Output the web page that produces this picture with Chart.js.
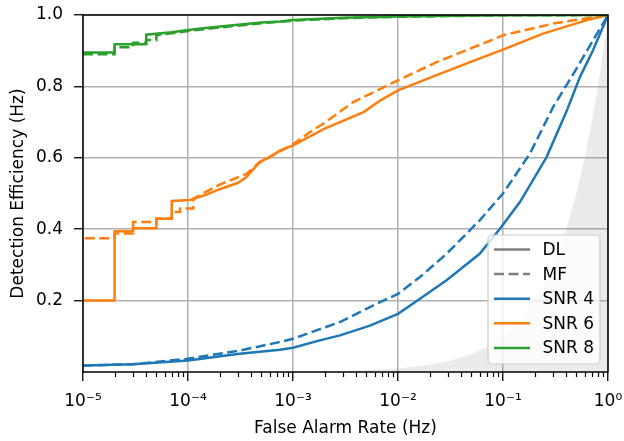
<!DOCTYPE html>
<html>
<head>
<meta charset="utf-8">
<script src="https://cdn.jsdelivr.net/npm/chart.js@4.4.1/dist/chart.umd.min.js"></script>
<style>
  html, body { margin: 0; padding: 0; background: #fff; }
  canvas { display: block; }
</style>
</head>
<body>
<canvas id="roc" width="624" height="441"></canvas>
<script>
// tick values / labels
const farTicks = [1e-5, 1e-4, 1e-3, 1e-2, 1e-1, 1];
const farTickLabels = ['10⁻⁵', '10⁻⁴', '10⁻³', '10⁻²', '10⁻¹', '10⁰'];
const effTicks = [0.2, 0.4, 0.6, 0.8, 1.0];

// SNR 4 (blue)
const snr4DlFar = [1e-5, 3e-5, 1e-4, 3.1e-4, 7.5e-4, 1e-3, 1.8e-3, 2.8e-3, 5.4e-3, 1e-2, 1.62e-2, 2.9e-2, 6e-2, 9.35e-2, 1.45e-1, 2.6e-1, 4e-1, 5.4e-1, 7.2e-1, 1];
const snr4DlEff = [0.0185, 0.022, 0.0325, 0.051, 0.0625, 0.068, 0.0885, 0.1025, 0.13, 0.163, 0.205, 0.257, 0.331, 0.401, 0.476, 0.602, 0.728, 0.826, 0.901, 1];
const snr4MfFar = [1e-5, 3e-5, 1e-4, 3.1e-4, 7.5e-4, 1e-3, 1.8e-3, 2.8e-3, 5.4e-3, 1e-2, 1.62e-2, 2.9e-2, 6e-2, 1e-1, 1.8e-1, 3e-1, 4.7e-1, 7.2e-1, 1];
const snr4MfEff = [0.018, 0.022, 0.037, 0.06, 0.084, 0.093, 0.12, 0.14, 0.182, 0.219, 0.266, 0.331, 0.425, 0.5, 0.611, 0.742, 0.836, 0.929, 1];

// SNR 6 (orange)
const snr6DlFar = [9e-6, 1e-5, 2e-5, 2e-5, 3e-5, 3e-5, 5e-5, 5e-5, 7e-5, 7e-5, 1.05e-4, 1.5e-4, 2e-4, 3e-4, 3.6e-4, 4.8e-4, 6e-4, 7.5e-4, 1e-3, 2e-3, 4.7e-3, 6.8e-3, 1e-2, 2e-2, 4.85e-2, 1e-1, 2.4e-1, 6.2e-1, 1];
const snr6DlEff = [0.17, 0.2, 0.2, 0.394, 0.394, 0.403, 0.403, 0.429, 0.429, 0.479, 0.482, 0.497, 0.512, 0.53, 0.546, 0.588, 0.602, 0.62, 0.635, 0.682, 0.728, 0.761, 0.789, 0.824, 0.868, 0.903, 0.948, 0.985, 1];
const snr6MfFar = [9e-6, 1e-5, 2e-5, 2e-5, 3e-5, 3e-5, 5e-5, 5e-5, 7e-5, 7e-5, 8.4e-5, 8.4e-5, 1.12e-4, 1.12e-4, 2e-4, 3.6e-4, 4.85e-4, 7.5e-4, 1e-3, 1.45e-3, 2e-3, 3.75e-3, 1e-2, 2.33e-2, 5e-2, 1e-1, 3e-1, 1];
const snr6MfEff = [0.3, 0.375, 0.375, 0.388, 0.388, 0.42, 0.42, 0.43, 0.43, 0.448, 0.448, 0.458, 0.458, 0.485, 0.525, 0.555, 0.588, 0.618, 0.638, 0.672, 0.698, 0.756, 0.817, 0.868, 0.907, 0.943, 0.976, 1];

// SNR 8 (green)
const snr8DlFar = [1e-5, 2e-5, 2e-5, 4e-5, 4e-5, 7e-5, 1e-4, 1.7e-4, 5e-4, 7.5e-4, 1e-3, 3e-3, 1e-2, 3e-2, 1e-1, 1];
const snr8DlEff = [0.895, 0.895, 0.918, 0.918, 0.945, 0.952, 0.958, 0.966, 0.979, 0.982, 0.986, 0.992, 0.996, 0.998, 0.999, 1];
const snr8MfFar = [1e-5, 2e-5, 2e-5, 3e-5, 3e-5, 4e-5, 4e-5, 5e-5, 5e-5, 1e-4, 2e-4, 5e-4, 1e-3, 3e-3, 1e-2, 1e-1, 1];
const snr8MfEff = [0.89, 0.89, 0.91, 0.91, 0.922, 0.922, 0.93, 0.93, 0.943, 0.955, 0.965, 0.977, 0.984, 0.991, 0.995, 0.999, 1];

// grey chance region
const chanceFar = [1e-5, 1e-3, 3e-3, 1e-2, 2e-2, 3e-2, 5e-2, 7e-2, 0.1, 0.15, 0.2, 0.3, 0.4, 0.5, 0.6, 0.7, 0.8, 0.9, 1];
const chanceEff = [0.00001, 0.001, 0.003, 0.01, 0.02, 0.03, 0.05, 0.07, 0.1, 0.15, 0.2, 0.3, 0.4, 0.5, 0.6, 0.7, 0.8, 0.9, 1];

const legendLabels = ['DL', 'MF', 'SNR 4', 'SNR 6', 'SNR 8'];

const blue = '#1f77b4';
const orange = '#ff7f0e';
const green = '#2ca02c';
const grey = '#808080';
const dash = [10, 4.5];

function pts(far, eff) {
    return far.map(function (x, i) { return { x: x, y: eff[i] }; });
}

function curve(far, eff, color, dashed, order) {
    return {
        data: pts(far, eff),
        borderColor: color,
        backgroundColor: color,
        borderWidth: 2.5,
        borderDash: dashed ? dash : [],
        fill: false,
        pointRadius: 0,
        order: order
    };
}

// minor ticks, frame and legend (matplotlib look)
const decorPlugin = {
    id: 'decor',
    beforeDatasetsDraw(chart) {
        const ctx = chart.ctx;
        const xs = chart.scales.x;
        const a = chart.chartArea;
        ctx.save();
        ctx.strokeStyle = '#000';
        ctx.lineWidth = 1.2;
        for (let e = -5; e < 0; e++) {
            for (let m = 2; m < 10; m++) {
                const px = Math.round(xs.getPixelForValue(m * Math.pow(10, e))) + 0.5;
                ctx.beginPath();
                ctx.moveTo(px, a.bottom);
                ctx.lineTo(px, a.bottom + 5);
                ctx.stroke();
            }
        }
        ctx.restore();
    },
    afterDatasetsDraw(chart) {
        const ctx = chart.ctx;
        const a = chart.chartArea;
        ctx.save();
        ctx.strokeStyle = '#000';
        ctx.lineWidth = 1.5;
        ctx.strokeRect(a.left, a.top, a.right - a.left, a.bottom - a.top);
        ctx.restore();
    },
    afterDraw(chart) {
        const ctx = chart.ctx;
        const a = chart.chartArea;
        const colors = [grey, grey, blue, orange, green];
        const w = 112, h = 129;
        const x0 = a.right - 8 - w, y0 = a.bottom - 8 - h;
        ctx.save();
        ctx.beginPath();
        ctx.roundRect(x0, y0, w, h, 4);
        ctx.fillStyle = 'rgba(255,255,255,0.8)';
        ctx.fill();
        ctx.strokeStyle = '#cccccc';
        ctx.lineWidth = 1.2;
        ctx.stroke();
        ctx.font = '17px "DejaVu Sans"';
        ctx.textBaseline = 'middle';
        ctx.textAlign = 'left';
        legendLabels.forEach(function (lab, i) {
            const yy = y0 + 14.5 + i * 24.6;
            ctx.beginPath();
            ctx.setLineDash(i === 1 ? dash : []);
            ctx.strokeStyle = colors[i];
            ctx.lineWidth = 2.5;
            ctx.moveTo(x0 + 6, yy);
            ctx.lineTo(x0 + 42, yy);
            ctx.stroke();
            ctx.setLineDash([]);
            ctx.fillStyle = '#000';
            ctx.fillText(lab, x0 + 54.5, yy + 1);
        });
        ctx.restore();
    }
};

Chart.defaults.font.family = '"DejaVu Sans"';
Chart.defaults.font.size = 17;
Chart.defaults.color = '#000';

const grafico = document.getElementById('roc');

new Chart(grafico, {
    type: 'line',
    data: {
        datasets: [
            {
                data: pts(chanceFar, chanceEff),
                borderColor: 'rgba(0,0,0,0)',
                backgroundColor: 'rgba(128,128,128,0.16)',
                borderWidth: 0,
                pointRadius: 0,
                fill: 'origin',
                order: 10
            },
            curve(snr4DlFar, snr4DlEff, blue, false, 6),
            curve(snr4MfFar, snr4MfEff, blue, true, 5),
            curve(snr6DlFar, snr6DlEff, orange, false, 4),
            curve(snr6MfFar, snr6MfEff, orange, true, 3),
            curve(snr8DlFar, snr8DlEff, green, false, 2),
            curve(snr8MfFar, snr8MfEff, green, true, 1)
        ]
    },
    options: {
        responsive: false,
        animation: false,
        layout: { padding: { top: 15, right: 16, left: 0, bottom: 0 } },
        plugins: {
            legend: { display: false },
            tooltip: { enabled: false }
        },
        scales: {
            x: {
                type: 'logarithmic',
                min: 1e-5,
                max: 1,
                afterBuildTicks: function (scale) {
                    scale.ticks = farTicks.map(function (v) { return { value: v, major: true }; });
                },
                afterFit: function (scale) {
                    scale.height = 69;
                    scale.paddingLeft = 0;
                    scale.paddingRight = 0;
                },
                border: { display: false },
                grid: {
                    color: '#b0b0b0',
                    lineWidth: 1.5,
                    tickColor: '#000',
                    tickLength: 9,
                    tickWidth: 1.3
                },
                ticks: {
                    padding: 10,
                    maxRotation: 0,
                    autoSkip: false,
                    callback: function (value, index) { return farTickLabels[index]; }
                },
                title: {
                    display: true,
                    text: 'False Alarm Rate (Hz)',
                    padding: { top: 0, bottom: 2 }
                }
            },
            y: {
                min: 0,
                max: 1,
                afterBuildTicks: function (scale) {
                    scale.ticks = effTicks.map(function (v) { return { value: v }; });
                },
                afterFit: function (scale) {
                    scale.width = 83;
                    scale.paddingTop = 0;
                    scale.paddingBottom = 0;
                },
                border: { display: false },
                grid: {
                    color: '#b0b0b0',
                    lineWidth: 1.5,
                    tickColor: '#000',
                    tickLength: 9,
                    tickWidth: 1.3
                },
                ticks: {
                    padding: 11,
                    callback: function (value) { return Number(value).toFixed(1); }
                },
                title: {
                    display: true,
                    text: 'Detection Efficiency (Hz)',
                    padding: { top: 8, bottom: 0 }
                }
            }
        }
    },
    plugins: [decorPlugin]
});
</script>
</body>
</html>
